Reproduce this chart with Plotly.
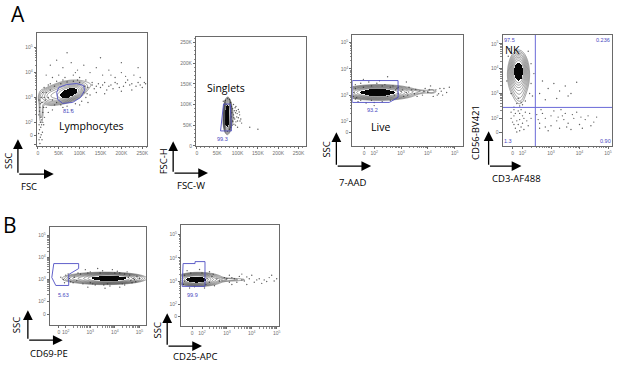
import numpy as np
import plotly.graph_objects as go

W, H = 617, 367

# ---------------- tick labels ----------------
lin_tick_vals = [0, 50, 100, 150, 200, 250]
lin_tick_text = ["0", "50K", "100K", "150K", "200K", "250K"]
log_tick_text = ["0", "10<sup>2</sup>", "10<sup>3</sup>", "10<sup>4</sup>", "10<sup>5</sup>"]

# ---------------- Panel 1: FSC (K) vs SSC (decades) ----------------
p1_dots = [(30, 4.3), (45, 4.5), (60, 4.2), (80, 4.4), (95, 4.1), (110, 4.3), (125, 4.0), (140, 4.2),
           (155, 3.9), (170, 4.1), (185, 3.8), (200, 4.0), (215, 3.7), (230, 3.9), (245, 3.8), (255, 3.6),
           (20, 3.9), (35, 3.8), (50, 3.9), (65, 3.8), (85, 3.9), (100, 3.8), (115, 3.7), (130, 3.6),
           (145, 3.55), (160, 3.6), (175, 3.5), (190, 3.55), (205, 3.45), (220, 3.5), (235, 3.45),
           (250, 3.4), (120, 3.4), (135, 3.35), (150, 3.4), (165, 3.3), (180, 3.35), (200, 3.25),
           (110, 3.2), (125, 3.1), (140, 3.2), (3, 2.9), (5, 2.6), (2, 2.3), (6, 2.0), (4, 1.7),
           (8, 1.5), (3, 1.3), (10, 2.8), (12, 2.4), (7, 2.2), (15, 3.0), (9, 1.9), (5, 1.15),
           (11, 1.6), (14, 2.6), (18, 2.9), (60, 2.6), (80, 2.5), (100, 2.7), (40, 2.7), (120, 2.8),
           (30, 3.3), (25, 3.5), (15, 3.4), (70, 4.8), (150, 4.6), (200, 4.4), (240, 4.2),
           (90, 4.0), (175, 3.9), (210, 3.85), (240, 3.6), (225, 3.3), (160, 3.15),
           (20, 3.2), (25, 3.0), (35, 2.9), (45, 2.8), (55, 2.7), (70, 2.65), (90, 2.75), (105, 2.85),
           (115, 3.0), (118, 3.15), (112, 3.45), (100, 3.6), (85, 3.65), (70, 3.62), (55, 3.55),
           (40, 3.45), (30, 3.55), (45, 3.65), (60, 3.7), (95, 3.7), (130, 3.5), (140, 3.45),
           (155, 3.5), (170, 3.45), (185, 3.6), (195, 3.4), (210, 3.6), (225, 3.55), (245, 3.5),
           (258, 3.55), (12, 3.2), (8, 3.0), (6, 2.75), (4, 2.45), (9, 2.1), (3, 1.9), (12, 2.0),
           (7, 1.8), (2, 1.55), (10, 1.3), (6, 1.4), (14, 1.9), (16, 2.2), (20, 2.6), (25, 2.4), (35, 2.5)]
p1_gate_x = [45.2, 50.0, 69.0, 92.9, 109.5, 111.9, 102.4, 83.3, 59.5, 47.6]
p1_gate_y = [3.2, 3.4, 3.52, 3.56, 3.48, 3.28, 3.0, 2.8, 2.76, 2.92]
p1_clusters = [(76, 3.18, 13, 0.13, 0.5, 1.0), (62, 3.2, 22, 0.2, 0.4, 0.3),
               (30, 3.05, 12, 0.16, 0.0, 0.1), (8, 2.5, 4, 0.45, 0.0, 0.03),
               (150, 3.55, 50, 0.18, 0.3, 0.013)]
p1_pct = "81.6"

# ---------------- Panel 2: FSC-W (K) vs FSC-H (K) ----------------
p2_dots = [(88, 90), (92, 85), (95, 80), (90, 75), (98, 70), (93, 65), (100, 60), (88, 60), (105, 75),
           (96, 95), (90, 100), (102, 88), (108, 65), (85, 70), (87, 50), (95, 50), (110, 55), (100, 45),
           (80, 40), (75, 35), (70, 110), (76, 115), (65, 108), (83, 105), (130, 45), (150, 40),
           (86, 80), (91, 68), (89, 58), (84, 95), (94, 92), (97, 85), (99, 78), (102, 68), (96, 58),
           (91, 52), (84, 45), (104, 82), (106, 60), (80, 112), (73, 100)]
p2_gate_x = [65.5, 82.5, 85.0, 58.2]
p2_gate_y = [101, 101, 36, 36]
p2_clusters = [(75.5, 85, 3.4, 11, 0.0, 1.0), (74.5, 60, 3.4, 11, 0.0, 1.0),
               (77, 72, 5, 18, 0.0, 0.1), (92, 72, 8, 15, 0.0, 0.012)]
p2_pct = "99.3"

# ---------------- Panel 3: 7-AAD vs SSC (decades) ----------------
p3_dots = [(3.0, 3.15), (3.2, 3.1), (3.4, 3.2), (3.5, 3.05), (3.7, 3.15), (3.8, 3.0), (3.9, 3.25),
           (4.0, 3.1), (4.3, 3.2), (4.4, 3.05), (4.5, 3.15), (4.6, 3.25), (3.3, 3.3), (3.6, 2.95),
           (4.1, 3.35), (4.2, 2.95), (3.1, 2.95), (2.9, 3.3), (1.3, 3.4), (1.5, 3.45), (1.8, 3.5),
           (2.1, 3.45), (2.4, 3.4), (2.7, 3.35), (1.4, 2.75), (1.7, 2.7), (2.0, 2.72), (2.3, 2.75),
           (2.6, 2.8), (1.25, 3.1), (2.9, 3.05), (1.35, 2.9), (2.8, 3.2), (2.2, 3.55), (1.6, 3.6),
           (2.0, 2.6), (4.7, 3.1), (4.8, 3.3), (2.5, 3.7), (3.2, 3.5),
           (1.3, 3.25), (1.22, 2.95), (1.5, 2.8), (1.9, 2.8), (2.5, 2.95), (2.75, 3.0), (2.85, 3.25),
           (2.6, 3.3), (2.3, 3.35), (1.9, 3.35), (1.6, 3.3), (1.3, 2.85), (3.05, 3.2), (3.25, 3.0),
           (3.55, 3.22), (3.85, 3.15), (4.05, 3.22), (4.45, 3.25), (4.55, 3.0), (4.35, 3.0)]
p3_gate_x = [1.185, 2.89, 2.89, 2.56, 1.185, 1.185]
p3_gate_y = [3.555, 3.555, 2.91, 2.72, 2.72, 3.555]
p3_clusters = [(2.1, 3.1, 0.45, 0.085, 0.0, 1.0), (2.2, 3.1, 0.6, 0.13, 0.0, 0.2),
               (3.5, 3.13, 0.55, 0.05, 0.0, 0.025), (4.15, 3.15, 0.1, 0.06, 0.0, 0.02)]
p3_pct = "93.2"

# ---------------- Panel 4: CD3-AF488 vs CD56-BV421 (decades) ----------------
p4_dots = [(1.7, 2.1), (1.8, 1.9), (1.9, 2.2), (2.0, 1.8), (1.75, 1.6), (1.85, 2.3), (2.05, 2.0),
           (1.65, 1.85), (1.95, 1.65), (2.1, 2.25), (1.8, 1.45), (1.9, 1.95), (2.2, 1.7), (1.7, 2.35),
           (2.0, 2.1), (1.6, 2.0), (2.3, 2.0), (1.85, 1.75), (2.15, 1.9), (1.75, 2.2), (1.9, 2.5),
           (1.95, 2.65), (1.85, 2.8), (2.0, 2.55), (1.8, 2.6), (2.1, 2.7), (2.6, 1.8), (2.8, 2.0),
           (3.0, 1.7), (3.2, 1.9), (3.4, 2.1), (3.6, 1.8), (3.8, 2.0), (4.0, 1.75), (4.2, 1.95),
           (4.5, 1.85), (2.7, 2.2), (3.1, 2.3), (3.5, 2.2), (3.9, 2.25), (4.3, 2.1), (2.9, 1.5),
           (3.3, 1.6), (3.7, 1.55), (4.1, 1.6), (2.55, 1.95), (3.45, 1.95), (4.6, 2.05), (2.7, 3.5),
           (2.9, 3.2), (3.1, 3.4), (3.3, 3.1), (3.5, 3.3), (3.7, 3.0), (3.9, 3.45), (2.6, 3.0),
           (3.2, 2.8), (2.8, 2.75), (3.6, 2.9), (1.5, 4.5), (2.3, 4.2), (2.3, 3.4), (1.45, 3.5),
           (2.4, 3.8), (1.55, 4.8), (2.2, 4.7), (1.6, 3.0), (2.25, 3.0), (2.35, 2.9),
           (1.7, 2.45), (1.95, 2.35), (1.6, 2.25), (2.05, 1.55), (1.9, 1.5), (1.7, 1.75), (2.25, 2.2),
           (2.8, 1.65), (3.0, 2.1), (3.25, 2.05), (3.55, 1.65), (3.75, 2.15), (4.05, 2.05), (4.4, 1.7),
           (2.65, 2.35), (3.35, 2.35), (2.5, 2.15), (2.6, 1.6)]
p4_q_x = 2.45
p4_q_y = 2.44
p4_clusters = [(1.86, 3.9, 0.1, 0.25, 0.0, 1.0), (1.86, 3.75, 0.17, 0.42, 0.0, 0.2),
               (1.9, 2.9, 0.12, 0.28, 0.0, 0.02)]
p4_quad = ["97.5", "0.236", "1.3", "0.90"]

# ---------------- Panel 5: CD69-PE vs SSC (decades) ----------------
p5_dots = [(2.0, 3.2), (2.2, 2.9), (2.5, 3.3), (2.7, 2.8), (3.0, 3.35), (3.2, 2.75), (3.5, 3.4),
           (3.8, 2.7), (4.1, 3.38), (4.4, 2.75), (4.6, 3.2), (4.8, 3.0), (4.7, 2.85), (4.9, 3.15),
           (1.9, 3.0), (2.35, 3.1), (4.5, 3.35), (3.3, 3.5), (3.9, 3.45), (2.8, 3.45), (3.6, 2.6),
           (4.2, 2.65), (2.9, 2.65), (5.0, 3.05), (1.8, 3.1),
           (2.1, 3.25), (2.3, 2.85), (2.6, 3.25), (2.9, 3.3), (3.1, 2.8), (3.4, 3.3), (3.7, 2.8),
           (4.0, 3.3), (4.3, 2.8), (4.55, 3.1), (4.75, 3.05), (4.65, 2.95), (2.45, 2.95), (1.95, 2.85),
           (2.15, 3.05), (3.0, 2.85), (4.4, 3.25), (4.85, 2.9), (3.55, 2.75), (4.2, 3.3)]
p5_gate_x = [1.514, 2.526, 2.526, 2.121, 2.121, 1.595, 1.433, 1.514]
p5_gate_y = [3.727, 3.727, 3.5, 3.227, 2.727, 2.727, 3.09, 3.727]
p5_clusters = [(3.8, 3.05, 0.48, 0.085, 0.0, 1.0), (3.5, 3.05, 0.7, 0.12, 0.0, 0.2),
               (2.4, 3.05, 0.22, 0.065, 0.0, 0.04)]
p5_pct = "5.63"

# ---------------- Panel 6: CD25-APC vs SSC (decades) ----------------
p6_dots = [(2.4, 3.2), (2.7, 3.0), (2.9, 3.15), (3.1, 2.95), (3.3, 3.1), (3.5, 3.2), (3.7, 3.0),
           (3.9, 3.1), (4.1, 2.95), (4.3, 3.1), (4.5, 3.05), (4.7, 3.15), (4.9, 3.0), (3.6, 3.3),
           (3.2, 2.85), (4.0, 3.25), (2.5, 2.8), (2.3, 3.4), (1.4, 3.45), (1.9, 3.5), (2.1, 2.7),
           (1.5, 2.7), (1.3, 3.0), (4.4, 2.9), (4.8, 3.25), (3.8, 2.85),
           (2.2, 3.1), (2.3, 2.95), (2.6, 3.1), (2.8, 3.05), (3.0, 3.1), (3.2, 3.15), (3.4, 2.95),
           (3.6, 3.05), (3.8, 3.18), (4.2, 3.05), (4.6, 2.98), (5.0, 3.1), (1.3, 3.25), (1.25, 2.85),
           (1.55, 3.35), (2.0, 3.35), (2.15, 2.85), (1.7, 2.75), (2.45, 3.3), (3.1, 3.25)]
p6_gate_x = [1.24, 1.72, 1.72, 2.12, 2.12, 1.2, 1.24]
p6_gate_y = [3.755, 3.755, 3.84, 3.84, 2.77, 2.77, 3.755]
p6_clusters = [(1.75, 3.07, 0.27, 0.09, 0.0, 1.0), (1.9, 3.07, 0.42, 0.13, 0.0, 0.2),
               (3.0, 3.06, 0.6, 0.05, 0.0, 0.03)]
p6_pct = "99.9"

# ---------------- layout helpers ----------------
def X(p):
    return p / W


def Y(p):
    return 1 - p / H


GATE = "#4f4fc4"
AX = "#6a6a6a"

panels = [
    dict(box=(36, 147, 33, 147), xr=[-2.4, 262], yr=[1.04, 5.6], xt="lin", yt="log", xz=None, yz=1.48,
         yextra=1.12, dots=p1_dots, cl=p1_clusters, gx=p1_gate_x + p1_gate_x[:1], gy=p1_gate_y + p1_gate_y[:1]),
    dict(box=(196, 306, 37, 147), xr=[-2, 267], yr=[-1, 264], xt="lin", yt="lin", xz=None, yz=None,
         yextra=None, dots=p2_dots, cl=p2_clusters, gx=p2_gate_x + p2_gate_x[:1], gy=p2_gate_y + p2_gate_y[:1]),
    dict(box=(353, 464, 35, 147), xr=[1.185, 5.30], yr=[1.05, 5.30], xt="log", yt="log", xz=1.63, yz=1.58,
         yextra=None, dots=p3_dots, cl=p3_clusters, gx=p3_gate_x, gy=p3_gate_y),
    dict(box=(504, 614, 35, 147), xr=[1.30, 5.14], yr=[0.88, 5.36], xt="log", yt="log", xz=1.65, yz=1.44,
         yextra=None, dots=p4_dots, cl=p4_clusters, gx=None, gy=None),
    dict(box=(49, 146, 228, 327), xr=[1.35, 5.28], yr=[0.91, 5.41], xt="log", yt="log", xz=1.72, yz=1.41,
         yextra=None, dots=p5_dots, cl=p5_clusters, gx=p5_gate_x, gy=p5_gate_y),
    dict(box=(181, 279, 226, 328), xr=[1.16, 5.08], yr=[1.05, 5.43], xt="log", yt="log", xz=1.6, yz=1.48,
         yextra=None, dots=p6_dots, cl=p6_clusters, gx=p6_gate_x, gy=p6_gate_y),
]


def axis_dict(kind, rng, zero, extra, domain, anchor):
    if kind == "lin":
        tv, tt = list(lin_tick_vals), list(lin_tick_text)
        minor = [v for v in range(0, 270, 10) if v % 50 != 0]
    else:
        tv, tt = [zero, 2, 3, 4, 5], list(log_tick_text)
        minor = [d + np.log10(k) for d in (2, 3, 4) for k in range(2, 10)]
        if extra is not None:
            tv = [extra] + tv
            tt = [" "] + tt
    minor = [m for m in minor if rng[0] < m < rng[1]]
    return dict(domain=domain, range=rng, anchor=anchor, showline=True, mirror=True, linecolor=AX,
                linewidth=0.8, ticks="outside", ticklen=2.2, tickwidth=0.6, tickcolor=AX, tickangle=0,
                tickfont=dict(size=5, color="#707070", family="Arial"), tickmode="array",
                tickvals=tv, ticktext=tt, showgrid=False, zeroline=False, fixedrange=True,
                minor=dict(tickvals=minor, ticks="outside", ticklen=1.4, tickwidth=0.5,
                           tickcolor="#8a8a8a", showgrid=False))


fig = go.Figure()
layout = dict(width=W, height=H, margin=dict(l=0, r=0, t=0, b=0), paper_bgcolor="white",
              plot_bgcolor="white", showlegend=False)

for i, p in enumerate(panels, start=1):
    xa = "x" if i == 1 else f"x{i}"
    ya = "y" if i == 1 else f"y{i}"
    l, r, t, b = p["box"]
    layout["xaxis" if i == 1 else f"xaxis{i}"] = axis_dict(p["xt"], p["xr"], p["xz"], None, [X(l), X(r)], ya)
    layout["yaxis" if i == 1 else f"yaxis{i}"] = axis_dict(p["yt"], p["yr"], p["yz"], p["yextra"],
                                                           [Y(b), Y(t)], xa)
    gx = np.linspace(p["xr"][0], p["xr"][1], 200)
    gy = np.linspace(p["yr"][0], p["yr"][1], 200)
    XX, YY = np.meshgrid(gx, gy)
    dens = np.zeros_like(XX)
    for cx, cy, sx, sy, rho, w in p["cl"]:
        dx = (XX - cx) / sx
        dy = (YY - cy) / sy
        q = (dx * dx - 2 * rho * dx * dy + dy * dy) / (1 - rho * rho)
        dens += w * np.exp(-0.5 * q)
    z = np.log10(dens / dens.max() + 1e-12)
    core = np.where(z >= -0.4, 1.0, np.nan)
    fig.add_trace(go.Heatmap(x=gx, y=gy, z=core, colorscale=[[0, "#050505"], [1, "#050505"]],
                             showscale=False, hoverinfo="skip", xaxis=xa, yaxis=ya))
    fig.add_trace(go.Contour(x=gx, y=gy, z=z, contours=dict(start=-1.9, end=-0.4, size=0.19, coloring="none"),
                             line=dict(color="#2a2a2a", width=0.45), showscale=False, hoverinfo="skip",
                             xaxis=xa, yaxis=ya))
    fig.add_trace(go.Scatter(x=[d[0] for d in p["dots"]], y=[d[1] for d in p["dots"]], mode="markers",
                             marker=dict(size=1.4, color="rgba(40,40,40,0.75)"), hoverinfo="skip",
                             xaxis=xa, yaxis=ya))
    if p["gx"] is not None:
        fig.add_trace(go.Scatter(x=p["gx"], y=p["gy"], mode="lines", line=dict(color=GATE, width=0.9),
                                 hoverinfo="skip", xaxis=xa, yaxis=ya))

# quadrant lines (panel 4)
fig.add_trace(go.Scatter(x=[p4_q_x, p4_q_x], y=panels[3]["yr"], mode="lines",
                         line=dict(color="#6a6ad8", width=1), hoverinfo="skip", xaxis="x4", yaxis="y4"))
fig.add_trace(go.Scatter(x=panels[3]["xr"], y=[p4_q_y, p4_q_y], mode="lines",
                         line=dict(color="#6a6ad8", width=1), hoverinfo="skip", xaxis="x4", yaxis="y4"))

ann = []
FONT = "Open Sans"


def txt(s, x, y, size=10, color="black", angle=0, fam=FONT):
    ann.append(dict(text=s, x=X(x), y=Y(y), xref="paper", yref="paper", showarrow=False,
                    xanchor="center", yanchor="middle", textangle=angle,
                    font=dict(size=size, color=color, family=fam)))


def arrows(cx, cy, ty, hx):
    ann.append(dict(text="", x=X(cx), y=Y(ty), xref="paper", yref="paper", ax=0, ay=cy - ty,
                    showarrow=True, arrowhead=2, arrowsize=1.5, arrowwidth=1.3, arrowcolor="black",
                    standoff=0, startstandoff=0))
    ann.append(dict(text="", x=X(hx), y=Y(cy), xref="paper", yref="paper", ax=cx - hx, ay=0,
                    showarrow=True, arrowhead=2, arrowsize=1.5, arrowwidth=1.3, arrowcolor="black",
                    standoff=0, startstandoff=0))


# section letters
txt("A", 17, 14, size=21)
txt("B", 9, 226, size=21)

# gate names
txt("Lymphocytes", 91, 127, size=10.5)
txt("Singlets", 226, 88, size=10.5)
txt("Live", 381, 128, size=10.5)
txt("NK", 514, 50, size=10.5)

# gate percentages
GP = "#4848c0"
txt(p1_pct, 68, 112, size=5.5, color=GP, fam="Arial")
txt(p2_pct, 223, 140, size=5.5, color=GP, fam="Arial")
txt(p3_pct, 373, 111, size=5.5, color=GP, fam="Arial")
txt(p5_pct, 63, 297, size=5.5, color=GP, fam="Arial")
txt(p6_pct, 192, 297, size=5.5, color=GP, fam="Arial")
txt(p4_quad[0], 511, 40, size=5.5, color=GP, fam="Arial")
txt(p4_quad[1], 605, 40, size=5.5, color=GP, fam="Arial")
txt(p4_quad[2], 509, 142, size=5.5, color=GP, fam="Arial")
txt(p4_quad[3], 607, 142, size=5.5, color=GP, fam="Arial")

# axis arrows and names
arrows(17, 175, 140, 53)
txt("SSC", 7, 162, size=9.5, angle=-90)
txt("FSC", 28, 188, size=9.5)

arrows(173, 174, 142, 208)
txt("FSC-H", 163, 162, size=9.5, angle=-90)
txt("FSC-W", 191, 187, size=9.5)

arrows(337, 167, 133, 372)
txt("SSC", 327, 150, size=9.5, angle=-90)
txt("7-AAD", 354, 183, size=9.5)

arrows(490, 167, 132, 523)
txt("CD56-BV421", 477, 133, size=9.5, angle=-90)
txt("CD3-AF488", 518, 179, size=9.5)

arrows(27, 342, 312, 62)
txt("SSC", 15, 327, size=9.5, angle=-90)
txt("CD69-PE", 48, 355, size=9.5)

arrows(167, 348, 315, 202)
txt("SSC", 157, 332, size=9.5, angle=-90)
txt("CD25-APC", 195, 358, size=9.5)

layout["annotations"] = ann
fig.update_layout(**layout)
fig.write_html("out.html", config={"displayModeBar": False},
               post_script="document.body.style.margin='0px';document.body.style.overflow='hidden';")
